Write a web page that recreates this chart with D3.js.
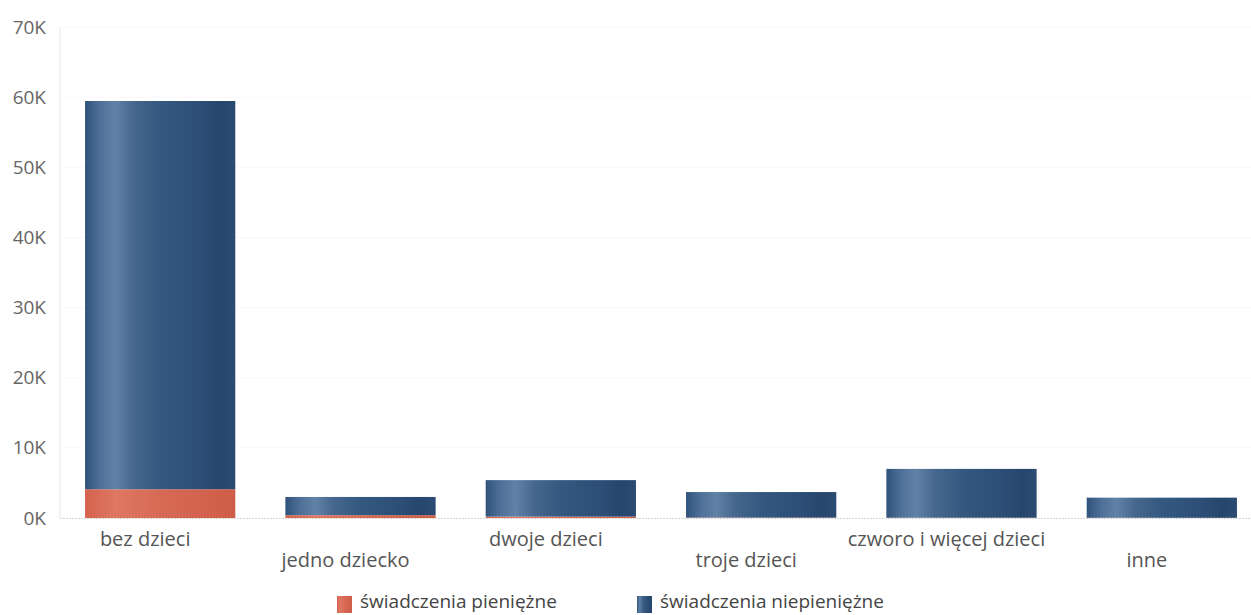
<!DOCTYPE html>
<html><head><meta charset="utf-8">
<script src="https://cdn.jsdelivr.net/npm/d3@7"></script>
<style>body{margin:0;background:#fff;font-family:"Open Sans",sans-serif;}</style>
</head><body><svg id="c" width="1251" height="615"></svg>
<script>
const categories = ["bez dzieci","jedno dziecko","dwoje dzieci","troje dzieci","czworo i więcej dzieci","inne"];
const pieniezne = [4100, 400, 200, 60, 40, 30];
const niepieniezne = [55350, 2600, 5200, 3640, 6960, 2870];
const seriesNames = ["świadczenia pieniężne","świadczenia niepieniężne"];
const yTicks = [0,10000,20000,30000,40000,50000,60000,70000];

const svg = d3.select("#c");
const defs = svg.append("defs");
const gb = defs.append("linearGradient").attr("id","gblue").attr("x1","0").attr("x2","1").attr("y1","0").attr("y2","0");
[[0,"#2f527b"],[0.1,"#4f7199"],[0.2,"#6082a6"],[0.32,"#46688f"],[0.5,"#34587f"],[0.75,"#2d4f77"],[0.9,"#26466d"],[1,"#2b4b73"]]
  .forEach(([o,c])=>gb.append("stop").attr("offset",o).attr("stop-color",c));
const gr = defs.append("linearGradient").attr("id","gred").attr("x1","0").attr("x2","1").attr("y1","0").attr("y2","0");
[[0,"#d5624d"],[0.2,"#de7763"],[0.5,"#d76a55"],[1,"#cf5d48"]]
  .forEach(([o,c])=>gr.append("stop").attr("offset",o).attr("stop-color",c));

const x = d3.scaleBand().domain(categories).range([60,1262]).paddingInner(0.25).paddingOuter(0.125);
const y = d3.scaleLinear().domain([0,70000]).range([518,27]);

svg.append("line").attr("x1",60).attr("x2",60).attr("y1",y(70000)).attr("y2",y(0)).attr("stroke","#e6e6e6");
svg.append("g").selectAll("line").data(yTicks.slice(1)).join("line")
  .attr("x1",60).attr("x2",1251).attr("y1",d=>y(d)).attr("y2",d=>y(d)).attr("stroke","#f8f8f8");
svg.append("line").attr("x1",60).attr("x2",1251).attr("y1",y(0)+0.5).attr("y2",y(0)+0.5)
  .attr("stroke","#d5d5d5").attr("stroke-dasharray","2,1");

const yAxis = d3.axisLeft(y).tickValues(yTicks).tickFormat(d=>(d/1000)+"K").tickSize(0).tickPadding(14);
const ga = svg.append("g").attr("transform","translate(60,0)").call(yAxis);
ga.select(".domain").remove();
ga.selectAll("text").attr("font-family","Open Sans").attr("font-size",19).attr("fill","#666");

const stackData = categories.map((c,i)=>({cat:c, p:pieniezne[i], n:niepieniezne[i]}));
const stack = d3.stack().keys(["p","n"])(stackData);
const fills = ["url(#gred)","url(#gblue)"];
svg.append("g").selectAll("g").data(stack).join("g").attr("fill",(d,i)=>fills[i])
  .selectAll("rect").data(d=>d).join("rect")
  .attr("x",d=>x(d.data.cat)).attr("width",x.bandwidth())
  .attr("y",d=>y(d[1])).attr("height",d=>y(d[0])-y(d[1]));

svg.append("g").selectAll("text").data(categories).join("text")
  .attr("x",d=>x(d)+x.bandwidth()/2 - 15).attr("y",(d,i)=> i%2===0 ? 546 : 567)
  .attr("text-anchor","middle").attr("font-size",20).attr("fill","#555").text(d=>d);

const lg = svg.append("g");
const lx = [337,637];
seriesNames.forEach((s,i)=>{
  lg.append("rect").attr("x",lx[i]).attr("y",596).attr("width",15).attr("height",17).attr("fill",fills[i]);
  lg.append("text").attr("x",lx[i]+23).attr("y",608).attr("font-size",19).attr("fill","#444").text(s);
});
</script></body></html>
